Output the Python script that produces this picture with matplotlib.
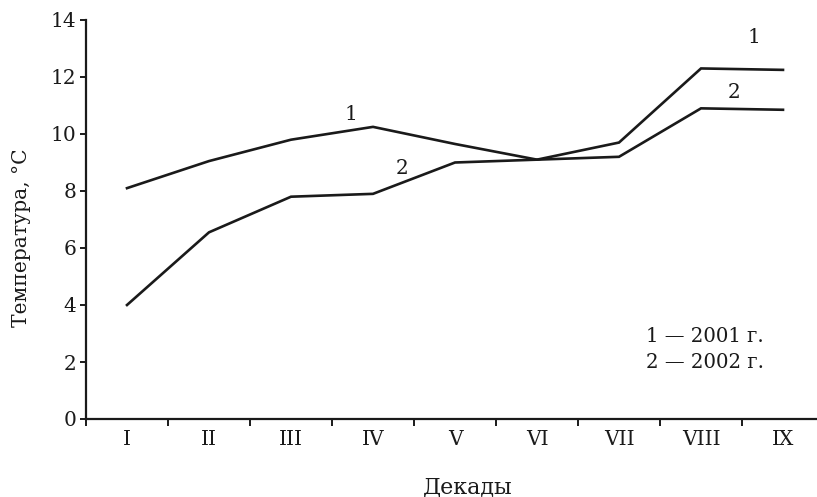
import matplotlib
matplotlib.use("Agg")
import matplotlib.pyplot as plt
import numpy as np

plt.rcParams['font.family'] = ['DejaVu Serif']

decades = ["I", "II", "III", "IV", "V", "VI", "VII", "VIII", "IX"]
t2001 = [8.1, 9.05, 9.8, 10.25, 9.65, 9.1, 9.7, 12.3, 12.25]
t2002 = [4.0, 6.55, 7.8, 7.9, 9.0, 9.1, 9.2, 10.9, 10.85]
yticks = [0, 2, 4, 6, 8, 10, 12, 14]

W, H = 817, 497
fig = plt.figure(figsize=(W/100, H/100), dpi=100)
ax = fig.add_axes([86/W, 1-419/H, 1-86/W, (419-20)/H])

ink = '#1a1a1a'
x = np.arange(len(decades)) + 0.5
ax.plot(x, t2001, color=ink, lw=1.9, solid_joinstyle='miter')
ax.plot(x, t2002, color=ink, lw=1.9, solid_joinstyle='miter')

ax.set_xlim(0, (W-86)/82.0)
ax.set_ylim(0, 14)
for s in ['top', 'right']:
    ax.spines[s].set_visible(False)
for s in ['left', 'bottom']:
    ax.spines[s].set_linewidth(1.6)
    ax.spines[s].set_color(ink)

fs = 14.5
ax.set_yticks(yticks)
ax.set_yticklabels([str(v) for v in yticks])
ax.set_xticks(np.arange(len(decades)))
ax.set_xticklabels([])
ax.set_xticks(x, minor=True)
ax.set_xticklabels(decades, minor=True)
ax.tick_params(axis='x', which='major', length=5, width=1.4, direction='out', color=ink)
ax.tick_params(axis='x', which='minor', length=0, pad=8, labelsize=fs, labelcolor=ink)
ax.tick_params(axis='y', length=4, width=1.4, pad=3, labelsize=fs, color=ink, labelcolor=ink)

ax.text(3.23, 10.68, "1", fontsize=fs, ha='center', va='center', color=ink)
ax.text(3.86, 8.79, "2", fontsize=fs, ha='center', va='center', color=ink)
ax.text(8.14, 13.4, "1", fontsize=fs, ha='center', va='center', color=ink)
ax.text(7.9, 11.47, "2", fontsize=fs, ha='center', va='center', color=ink)

fig.text(646/W, 1-336/H, "1 — 2001 г.", fontsize=14.2, ha='left', va='center', color=ink)
fig.text(646/W, 1-362/H, "2 — 2002 г.", fontsize=14.2, ha='left', va='center', color=ink)

fig.text(22/W, 1-238/H, "Температура, °C", rotation=90, fontsize=14.6, ha='center', va='center', color=ink)
fig.text(468/W, 1-487/H, "Декады", fontsize=16, ha='center', va='center', color=ink)

fig.savefig("out.png", dpi=100)
